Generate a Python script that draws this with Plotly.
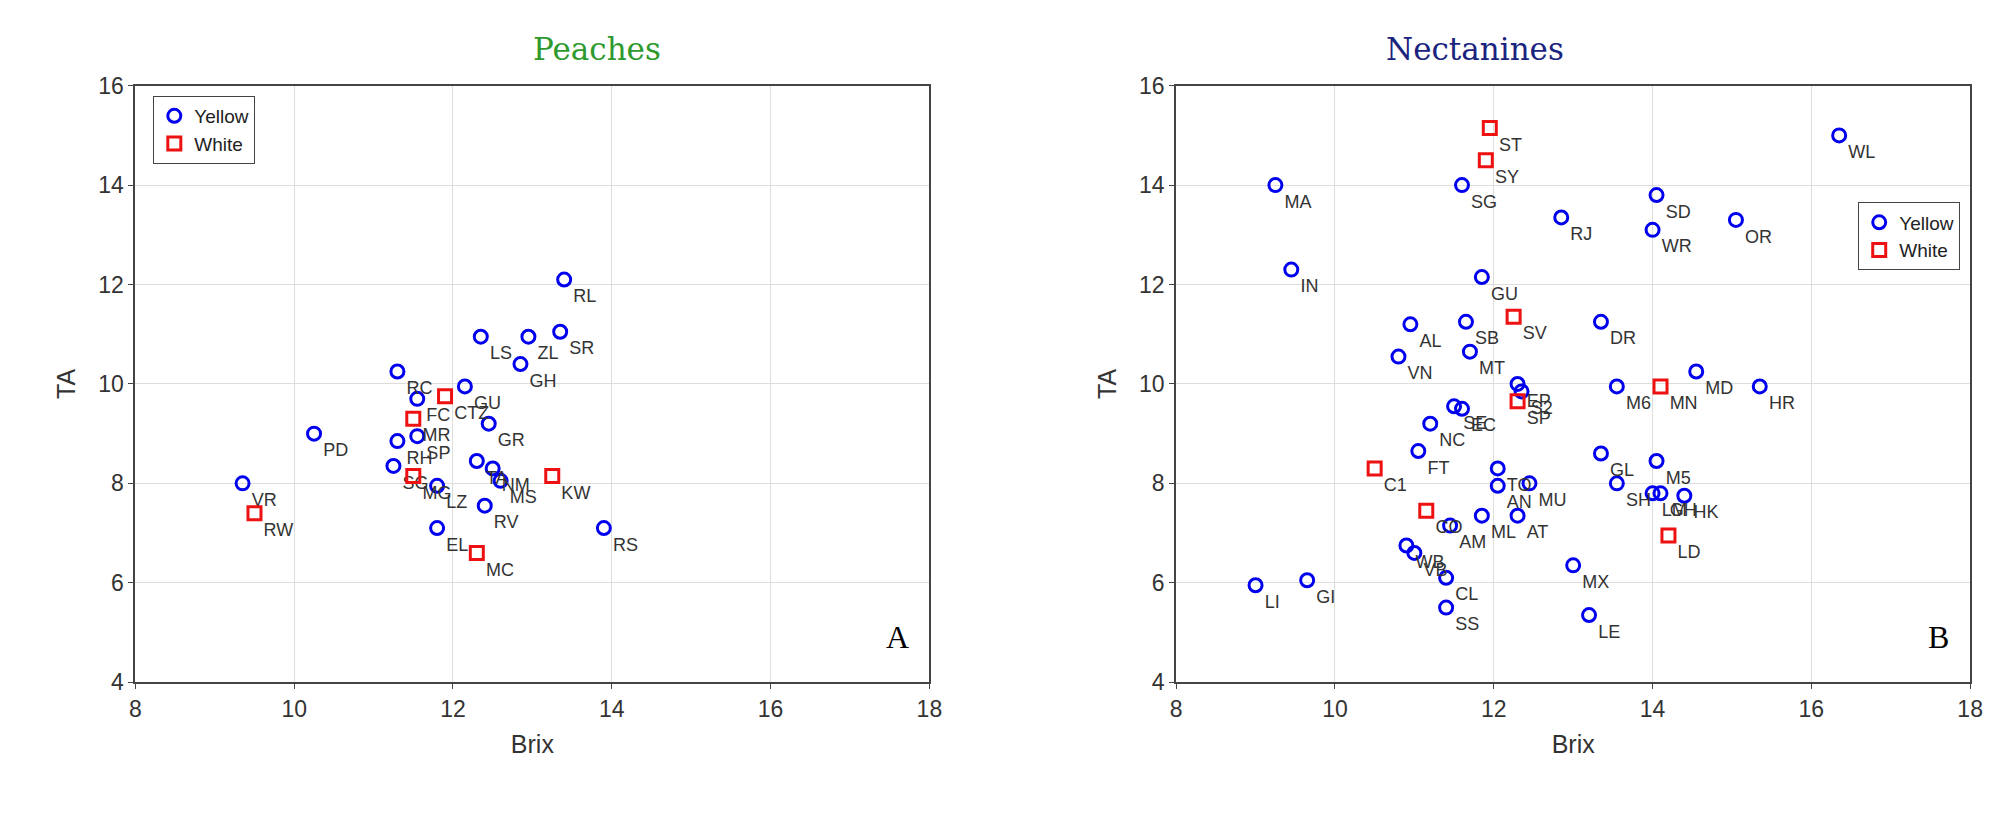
import plotly.graph_objects as go
from plotly.subplots import make_subplots

# Peaches
p_yel_lab = ['RL', 'LS', 'ZL', 'SR', 'GH', 'RC', 'GU', 'FC', 'GR', 'PD', 'RH', 'SP', 'SG', 'TA', 'NM',
             'MS', 'LZ', 'RV', 'EL', 'RS', 'VR']
p_yel_x = [13.4, 12.35, 12.95, 13.35, 12.85, 11.3, 12.15, 11.55, 12.45, 10.25, 11.3, 11.55, 11.25, 12.3, 12.5,
           12.6, 11.8, 12.4, 11.8, 13.9, 9.35]
p_yel_y = [12.1, 10.95, 10.95, 11.05, 10.4, 10.25, 9.95, 9.7, 9.2, 9.0, 8.85, 8.95, 8.35, 8.45, 8.3,
           8.05, 7.95, 7.55, 7.1, 7.1, 8.0]
p_wht_lab = ['CTZ', 'MR', 'MG', 'KW', 'RW', 'MC']
p_wht_x = [11.9, 11.5, 11.5, 13.25, 9.5, 12.3]
p_wht_y = [9.75, 9.3, 8.15, 8.15, 7.4, 6.6]

# Nectarines
n_yel_lab = ['WL', 'MA', 'SG', 'SD', 'RJ', 'OR', 'WR', 'IN', 'GU', 'AL', 'SB', 'DR', 'VN', 'MT', 'EP',
             'S2', 'MD', 'M6', 'HR', 'SE', 'EC', 'NC', 'FT', 'GL', 'M5', 'TO', 'AN', 'MU', 'SH', 'LM',
             'GH', 'HK', 'ML', 'AT', 'AM', 'MX', 'WB', 'VB', 'CL', 'SS', 'LE', 'LI', 'GI']
n_yel_x = [16.35, 9.25, 11.6, 14.05, 12.85, 15.05, 14.0, 9.45, 11.85, 10.95, 11.65, 13.35, 10.8, 11.7, 12.3,
           12.35, 14.55, 13.55, 15.35, 11.5, 11.6, 11.2, 11.05, 13.35, 14.05, 12.05, 12.05, 12.45, 13.55, 14.0,
           14.1, 14.4, 11.85, 12.3, 11.45, 13.0, 10.9, 11.0, 11.4, 11.4, 13.2, 9.0, 9.65]
n_yel_y = [15.0, 14.0, 14.0, 13.8, 13.35, 13.3, 13.1, 12.3, 12.15, 11.2, 11.25, 11.25, 10.55, 10.65, 10.0,
           9.85, 10.25, 9.95, 9.95, 9.55, 9.5, 9.2, 8.65, 8.6, 8.45, 8.3, 7.95, 8.0, 8.0, 7.8,
           7.8, 7.75, 7.35, 7.35, 7.15, 6.35, 6.75, 6.6, 6.1, 5.5, 5.35, 5.95, 6.05]
n_wht_lab = ['ST', 'SY', 'SV', 'SP', 'MN', 'C1', 'CO', 'LD']
n_wht_x = [11.95, 11.9, 12.25, 12.3, 14.1, 10.5, 11.15, 14.2]
n_wht_y = [15.15, 14.5, 11.35, 9.65, 9.95, 8.3, 7.45, 6.95]

fig = make_subplots(rows=1, cols=2, horizontal_spacing=0.12)

def add_group(x, y, lab, name, sym, color, col):
    fig.add_trace(go.Scatter(
        x=x, y=y, text=lab, mode='markers+text', name=name,
        textposition='bottom right', textfont=dict(size=18, color='#333333', family='Liberation Sans'),
        marker=dict(symbol=sym, size=13, color=color, line=dict(width=3)),
        legend='legend' if col == 1 else 'legend2'), row=1, col=col)

add_group(p_yel_x, p_yel_y, p_yel_lab, 'Yellow', 'circle-open', '#0000ee', 1)
add_group(p_wht_x, p_wht_y, p_wht_lab, 'White', 'square-open', '#ee1111', 1)
add_group(n_yel_x, n_yel_y, n_yel_lab, 'Yellow', 'circle-open', '#0000ee', 2)
add_group(n_wht_x, n_wht_y, n_wht_lab, 'White', 'square-open', '#ee1111', 2)

ax = dict(range=[8, 18], dtick=2, showgrid=True, gridcolor='#dddddd', showline=True, mirror=True,
          linecolor='#444444', linewidth=2, ticks='outside', ticklen=5, zeroline=False,
          tickfont=dict(size=23, color='#333333'), title=dict(text='Brix', font=dict(size=25, color='#333333')))
ay = dict(range=[4, 16], dtick=2, showgrid=True, gridcolor='#dddddd', showline=True, mirror=True,
          linecolor='#444444', linewidth=2, ticks='outside', ticklen=5, zeroline=False,
          tickfont=dict(size=23, color='#333333'), title=dict(text='TA', font=dict(size=25, color='#333333')))
fig.update_xaxes(**ax)
fig.update_yaxes(**ay)
fig.update_layout(xaxis=dict(domain=[0.061, 0.46]), xaxis2=dict(domain=[0.584, 0.983]),
                  yaxis=dict(domain=[0.162, 0.918]), yaxis2=dict(domain=[0.162, 0.918]))

leg = dict(bgcolor='white', bordercolor='#444444', borderwidth=1, font=dict(size=19, color='#222222'),
           tracegroupgap=0)
fig.update_layout(
    legend=dict(x=0.07, y=0.905, xanchor='left', yanchor='top', **leg),
    legend2=dict(x=0.978, y=0.77, xanchor='right', yanchor='top', **leg),
)

fig.add_annotation(text='Peaches', x=0.26, y=0.99, xref='paper', yref='paper', showarrow=False,
                   font=dict(size=31, color='#2e9a2e', family='DejaVu Serif'), yanchor='top')
fig.add_annotation(text='Nectanines', x=0.78, y=0.99, xref='paper', yref='paper', showarrow=False,
                   font=dict(size=31, color='#1a237e', family='DejaVu Serif'), yanchor='top')
fig.add_annotation(text='A', x=17.6, y=4.9, xref='x', yref='y', showarrow=False,
                   font=dict(size=32, color='black', family='Liberation Serif'))
fig.add_annotation(text='B', x=17.6, y=4.9, xref='x2', yref='y2', showarrow=False,
                   font=dict(size=32, color='black', family='Liberation Serif'))

fig.update_layout(width=2009, height=815, plot_bgcolor='white', paper_bgcolor='white',
                  margin=dict(l=0, r=0, t=0, b=0), font=dict(family='Liberation Sans'))
fig.write_html("out.html")
